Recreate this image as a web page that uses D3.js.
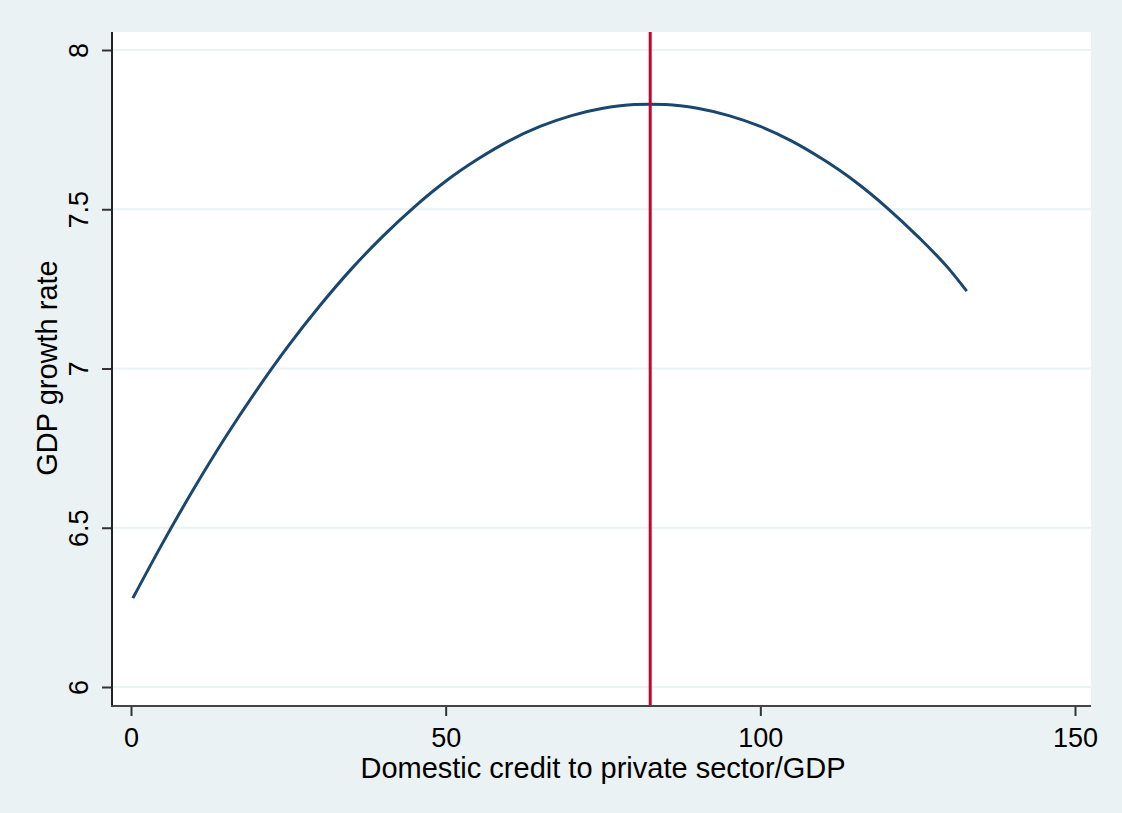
<!DOCTYPE html>
<html>
<head>
<meta charset="utf-8">
<script src="https://cdn.jsdelivr.net/npm/d3@7"></script>
<style>
  body { margin: 0; background: #eaf2f3; }
  text { font-family: "Liberation Sans", Arial, sans-serif; fill: #000; }
</style>
</head>
<body>
<script>
// values
var credit = [0.3, 5, 10, 15, 20, 25, 30, 35, 40, 45, 50, 55, 60, 65, 70, 75, 80, 82.5,
              85, 90, 95, 100, 105, 110, 115, 120, 125, 130, 132.8]
var growth = [6.279, 6.451, 6.623, 6.784, 6.933, 7.071, 7.197, 7.312, 7.415, 7.507, 7.588, 7.656,
              7.714, 7.760, 7.794, 7.817, 7.829, 7.830, 7.829, 7.817, 7.794, 7.760, 7.714, 7.656,
              7.588, 7.507, 7.415, 7.312, 7.243]
var turningPoint = 82.5
var xTicks = [0, 50, 100, 150]
var yTicks = [6, 6.5, 7, 7.5, 8]

WIDTH = 1122
HEIGHT = 813
LEFT = 112
RIGHT = 1091
TOP = 32
BOTTOM = 706

var svg = d3.select("body").append("svg")
            .attr("width", WIDTH).attr("height", HEIGHT)

svg.append("rect").attr("x", 0).attr("y", 0).attr("width", WIDTH).attr("height", HEIGHT)
   .attr("fill", "#eaf2f3")
svg.append("rect").attr("x", LEFT).attr("y", TOP)
   .attr("width", RIGHT - LEFT).attr("height", BOTTOM - TOP).attr("fill", "#fff")

var xScale = d3.scaleLinear().domain([0, 150]).range([131, 1075])
var yScale = d3.scaleLinear().domain([6, 8]).range([687, 50])

// horizontal grid
svg.append("g").selectAll("line").data(yTicks).enter().append("line")
   .attr("x1", LEFT).attr("x2", RIGHT)
   .attr("y1", function(d) { return yScale(d) }).attr("y2", function(d) { return yScale(d) })
   .attr("stroke", "#eaf2f3").attr("stroke-width", 2)

// axes
var yAxis = svg.append("g").attr("transform", "translate(" + LEFT + ",0)")
   .call(d3.axisLeft(yScale).tickValues(yTicks).tickSize(10).tickSizeOuter(0).tickFormat(d3.format("")))
yAxis.select(".domain").remove()
yAxis.selectAll("line").attr("stroke", "#333").attr("stroke-width", 2)
yAxis.selectAll("text").attr("font-size", 27)
   .attr("x", 0).attr("y", 0).attr("dy", 0)
   .attr("text-anchor", "middle")
   .attr("transform", "translate(-24,0)rotate(-90)")

var xAxis = svg.append("g").attr("transform", "translate(0," + BOTTOM + ")")
   .call(d3.axisBottom(xScale).tickValues(xTicks).tickSize(10).tickSizeOuter(0).tickFormat(d3.format("")))
xAxis.select(".domain").remove()
xAxis.selectAll("line").attr("stroke", "#333").attr("stroke-width", 2)
xAxis.selectAll("text").attr("font-size", 27).attr("y", 41).attr("dy", 0)

// frame lines
svg.append("line").attr("x1", LEFT).attr("x2", LEFT).attr("y1", TOP).attr("y2", BOTTOM + 1)
   .attr("stroke", "#222").attr("stroke-width", 2)
svg.append("line").attr("x1", LEFT - 1).attr("x2", RIGHT).attr("y1", BOTTOM).attr("y2", BOTTOM)
   .attr("stroke", "#444").attr("stroke-width", 2)

// fitted curve
var points = credit.map(function(c, i) { return [c, growth[i]] })
var line = d3.line().x(function(d) { return xScale(d[0]) }).y(function(d) { return yScale(d[1]) })
   .curve(d3.curveMonotoneX)
svg.append("path").datum(points).attr("d", line)
   .attr("fill", "none").attr("stroke", "#1a476f").attr("stroke-width", 3)

// turning point
svg.append("line").attr("x1", xScale(turningPoint)).attr("x2", xScale(turningPoint))
   .attr("y1", TOP).attr("y2", BOTTOM - 1)
   .attr("stroke", "#c10534").attr("stroke-width", 3)

// titles
svg.append("text").attr("x", 603).attr("y", 778).attr("text-anchor", "middle")
   .attr("font-size", 29).text("Domestic credit to private sector/GDP")
svg.append("text").attr("transform", "translate(57,368)rotate(-90)").attr("text-anchor", "middle")
   .attr("font-size", 29).text("GDP growth rate")
</script>
</body>
</html>
